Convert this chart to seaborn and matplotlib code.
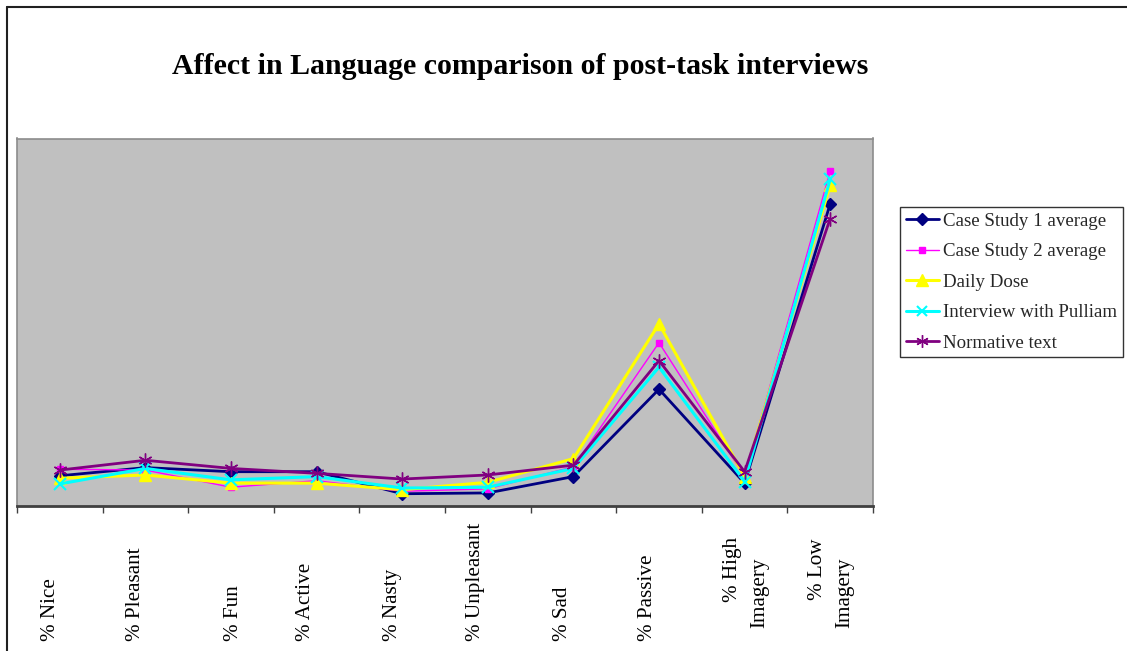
import numpy as np
import pandas as pd
import matplotlib
matplotlib.use("Agg")
import matplotlib.pyplot as plt
import matplotlib.transforms as mtransforms
from matplotlib.lines import Line2D
import seaborn as sns

# ---- data -------------------------------------------------------------
categories = ["% Nice", "% Pleasant", "% Fun", "% Active", "% Nasty",
              "% Unpleasant", "% Sad", "% Passive", "% High\nImagery",
              "% Low\nImagery"]

case_study_1 = [3.7, 4.7, 4.2, 4.2, 1.5, 1.6, 3.6, 14.3, 2.8, 37.0]
case_study_2 = [4.5, 4.4, 2.3, 3.1, 1.8, 2.1, 4.8, 20.0, 3.6, 41.0]
daily_dose = [3.4, 3.8, 2.8, 2.8, 2.0, 2.9, 5.8, 22.3, 3.6, 39.3]
pulliam = [2.7, 4.6, 3.2, 3.6, 2.2, 2.3, 4.6, 17.0, 3.0, 40.0]
normative = [4.4, 5.6, 4.6, 4.0, 3.3, 3.8, 5.0, 17.8, 4.2, 35.2]

series_names = ["Case Study 1 average", "Case Study 2 average", "Daily Dose",
                "Interview with Pulliam", "Normative text"]
series_values = [case_study_1, case_study_2, daily_dose, pulliam, normative]

# ---- styles -----------------------------------------------------------
styles = {
    "Case Study 1 average":   dict(color="#000080", marker="D", ms=6.5, lw=2.0, mew=1.0),
    "Case Study 2 average":   dict(color="#FF00FF", marker="s", ms=4.5, lw=1.0, mew=1.0),
    "Daily Dose":             dict(color="#FFFF00", marker="^", ms=9, lw=2.2, mew=1.0),
    "Interview with Pulliam": dict(color="#00FFFF", marker="x", ms=8, lw=2.2, mew=1.5),
    "Normative text":         dict(color="#800080", marker=(6, 2, 0), ms=10, lw=2.0, mew=1.0),
}

# placement of each line of the rotated category names:
# (horizontal shift in px from category centre, vertical anchor in px, alignment along text)
label_layout = [
    [(-9, 641, "left")],
    [(-10, 641, "left")],
    [(3, 641, "left")],
    [(-11, 641, "left")],
    [(-10, 641, "left")],
    [(-12, 641, "left")],
    [(-11, 641, "left")],
    [(-11, 641, "left")],
    [(-12.5, 569, "center"), (15.5, 593, "center")],
    [(-12.5, 569, "center"), (14.5, 593, "center")],
]

W, H = 1127, 651
sns.set_theme(style="white")
plt.rcParams["font.family"] = ["Liberation Serif", "DejaVu Serif"]

fig = plt.figure(figsize=(W / 100, H / 100), dpi=100)
fig.patch.set_facecolor("white")

ax_l, ax_r, ax_t, ax_b = 17, 873, 138.5, 506
ax = fig.add_axes([ax_l / W, 1 - ax_b / H, (ax_r - ax_l) / W, (ax_b - ax_t) / H])
ax.set_facecolor("#C0C0C0")

long = pd.DataFrame({
    "category": np.tile(np.arange(len(categories)), len(series_names)),
    "value": np.concatenate(series_values),
    "series": np.repeat(series_names, len(categories)),
})

for name in series_names:
    st = styles[name]
    sub = long[long["series"] == name]
    sns.lineplot(data=sub, x="category", y="value", ax=ax, color=st["color"],
                 marker=st["marker"], markersize=st["ms"], linewidth=st["lw"],
                 markeredgecolor=st["color"], markerfacecolor=st["color"],
                 markeredgewidth=st["mew"], label=name, legend=False)

ax.set_xlim(-0.5, len(categories) - 0.5)
ax.set_ylim(0, 45)
ax.set_xlabel("")
ax.set_ylabel("")
ax.set_yticks([])
ax.set_xticks(np.arange(len(categories) + 1) - 0.5)
ax.set_xticklabels([])
ax.tick_params(axis="x", direction="out", length=4.8, width=1.0, color="#404040",
               bottom=True)

for side in ["top", "right", "left"]:
    ax.spines[side].set_color("#8C8C8C")
    ax.spines[side].set_linewidth(1.2)
ax.spines["bottom"].set_color("#404040")
ax.spines["bottom"].set_linewidth(2.0)

# rotated category names below the axis
for i, lab in enumerate(categories):
    for line, (dx, ypx, ha) in zip(lab.split("\n"), label_layout[i]):
        off = mtransforms.ScaledTranslation(dx / 100, 0, fig.dpi_scale_trans)
        trans = mtransforms.blended_transform_factory(ax.transData, fig.transFigure) + off
        ax.text(i, 1 - ypx / H, line, transform=trans, rotation=90,
                rotation_mode="anchor", ha=ha, va="center",
                fontsize=15.2, color="black", clip_on=False)

# title
fig.text(520 / W, 1 - 67 / H, "Affect in Language comparison of post-task interviews",
         ha="center", va="center", fontsize=21.5, fontweight="bold", color="black")

# legend
handles = []
for name in series_names:
    st = styles[name]
    handles.append(Line2D([0], [0], color=st["color"], lw=st["lw"], marker=st["marker"],
                          markersize=st["ms"] * 0.9, markeredgecolor=st["color"],
                          markerfacecolor=st["color"], markeredgewidth=st["mew"]))
leg = fig.legend(handles, series_names, loc="upper left",
                 bbox_to_anchor=(900 / W, 1 - 207 / H), bbox_transform=fig.transFigure,
                 borderaxespad=0, frameon=True, fancybox=False, shadow=False,
                 fontsize=13.6, handlelength=1.75, handletextpad=0.25,
                 borderpad=0.3, labelspacing=0.7)
leg.get_frame().set_edgecolor("black")
leg.get_frame().set_linewidth(1.0)
leg.get_frame().set_facecolor("white")

# chart outline (left and top edges)
fig.add_artist(Line2D([6.5 / W, 6.5 / W], [0, 1 - 6.5 / H], transform=fig.transFigure,
                      color="#202020", lw=1.5))
fig.add_artist(Line2D([6.5 / W, 1], [1 - 6.5 / H, 1 - 6.5 / H], transform=fig.transFigure,
                      color="#202020", lw=1.5))

fig.savefig("out.png", dpi=100, facecolor="white")
